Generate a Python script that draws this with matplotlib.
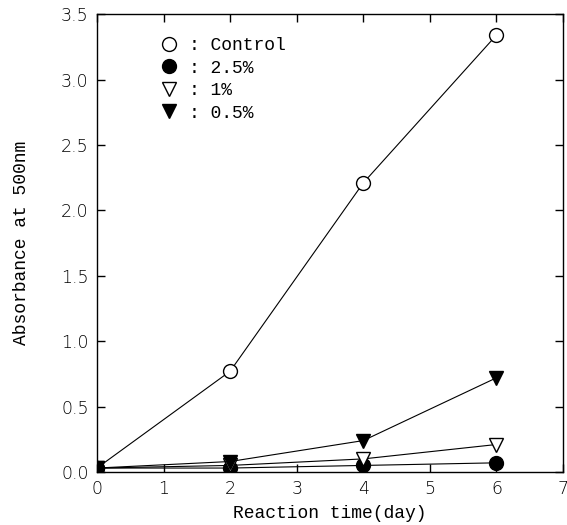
import matplotlib
matplotlib.use("Agg")
import matplotlib.pyplot as plt

days = [0, 2, 4, 6]
control = [0.03, 0.77, 2.21, 3.34]
c25 = [0.03, 0.03, 0.05, 0.07]
c1 = [0.03, 0.05, 0.10, 0.21]
c05 = [0.03, 0.08, 0.24, 0.72]
labels = [": Control", ": 2.5%", ": 1%", ": 0.5%"]

fig = plt.figure(figsize=(5.67, 5.25), dpi=100)
ax = fig.add_axes([0.171, 0.101, 0.822, 0.872])

lw = 0.8
ax.plot(days, control, color="black", lw=lw, marker="o", ms=10, mfc="white", mec="black", mew=1.0, label=labels[0], zorder=3)
ax.plot(days, c25, color="black", lw=lw, marker="o", ms=10, mfc="black", mec="black", label=labels[1], zorder=3)
ax.plot(days, c1, color="black", lw=lw, marker="v", ms=10, mfc="white", mec="black", mew=1.0, label=labels[2], zorder=3)
ax.plot(days, c05, color="black", lw=lw, marker="v", ms=10, mfc="black", mec="black", label=labels[3], zorder=3)

ax.set_xlim(0, 7)
ax.set_ylim(0, 3.5)
ax.set_xticks(range(0, 8))
ax.set_yticks([0.0, 0.5, 1.0, 1.5, 2.0, 2.5, 3.0, 3.5])
ax.set_yticklabels(["0.0", "0.5", "1.0", "1.5", "2.0", "2.5", "3.0", "3.5"])
ax.tick_params(direction="in", top=True, right=True, length=6, width=1, labelsize=12.5, pad=6)
for lab in ax.get_xticklabels() + ax.get_yticklabels():
    lab.set_family("DejaVu Sans")
    lab.set_fontweight("light")
for s in ax.spines.values():
    s.set_linewidth(1.0)

ax.set_xlabel("Reaction time(day)", family="Liberation Mono", fontsize=13, labelpad=5)
ax.set_ylabel("Absorbance at 500nm", family="Liberation Mono", fontsize=13, labelpad=22)

leg = ax.legend(loc="upper left", bbox_to_anchor=(0.105, 0.985), frameon=False,
                prop={"family": "Liberation Mono", "size": 13}, handlelength=0.8,
                handletextpad=0.7, labelspacing=0.3, numpoints=1)
for h in leg.legend_handles:
    h.set_linestyle("none")

fig.savefig("out.png", dpi=100)
